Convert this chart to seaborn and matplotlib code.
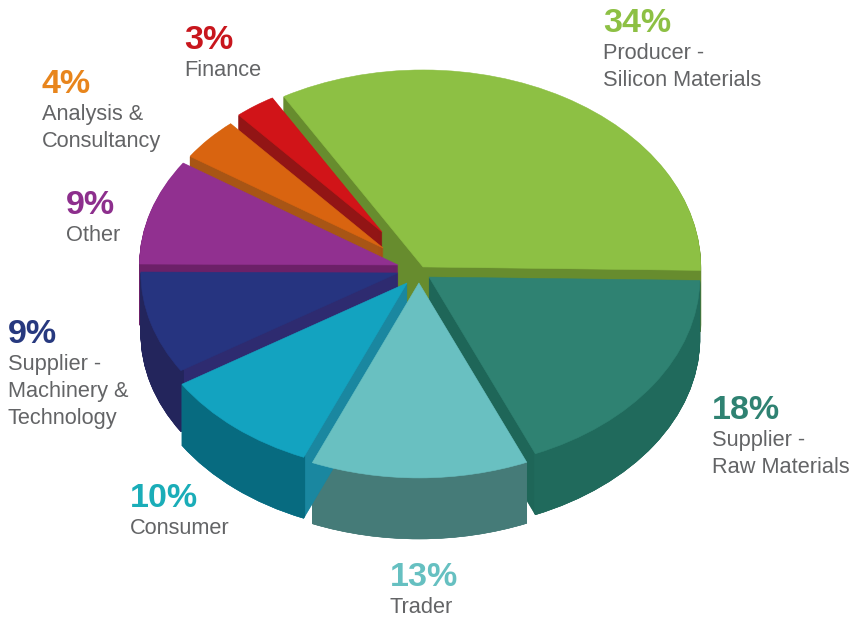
import matplotlib
matplotlib.use("Agg")
import matplotlib.pyplot as plt
import seaborn as sns

# ---- data ----
categories = ["Producer -\nSilicon Materials", "Finance", "Analysis &\nConsultancy", "Other",
              "Supplier -\nMachinery &\nTechnology", "Consumer", "Trader", "Supplier -\nRaw Materials"]
shares = [34, 3, 4, 9, 9, 10, 13, 18]

# ---- style ----
top_colors = ["#8DC044", "#D11418", "#D96410", "#913090", "#263480", "#13A3C0", "#69C0C1", "#2F8272"]
radial_colors = ["#678C2E", "#921515", "#A85515", "#6C2068", "#2E2B70", "#1A87A0", "#457B78", "#1E6658"]
rim_colors = ["#678C2E", "#921515", "#A85515", "#6C2068", "#23255C", "#076B80", "#457B78", "#206A5C"]
text_colors = ["#8DC044", "#C8161D", "#E8851C", "#8D2F8D", "#27397F", "#1AADB8", "#66C0C1", "#2F8272"]
label_gray = "#636466"

# ---- layout (pixels per unit, offsets in pie units) ----
W, H = 864, 624
CX, CY, UX, UY = 412, 272, 275, 195
START_ANGLE = -1
boundary_nudge = [-1.3, -1.2, -0.4, 0.7, 1.0, -0.2, -1.1, 0.0]  # perspective of the drawing, degrees
shift_x = [0.040, -0.109, -0.105, -0.051, -0.051, -0.018, 0.025, 0.062]
shift_y = [0.026, 0.205, 0.123, 0.036, -0.005, -0.056, -0.056, -0.026]
radius = [1.01, 0.795, 0.845, 0.94, 0.935, 0.97, 1.0, 0.985]
draw_rank = [0, 1, 2, 3, 4, 7, 6, 5]   # back to front
DEPTH_PX = 61
text_x = [603, 184, 42, 66, 8, 130, 390, 712]
text_base = [32, 49, 93, 214, 343, 507, 586, 419]
LINE_PX = 27

sns.set_theme(style="white")
plt.rcParams["font.family"] = ["Liberation Sans", "DejaVu Sans"]

fig = plt.figure(figsize=(W / 100, H / 100), dpi=100, facecolor="white")
ax = fig.add_axes([0, 0, 1, 1])


def layer(colors, depth_px, zbase, ring=None):
    wp = {"linewidth": 0.4, "antialiased": True}
    if ring is not None:
        wp["width"] = ring
    wedges, texts = ax.pie(shares, colors=colors, startangle=START_ANGLE, counterclock=True,
                           wedgeprops=wp)
    for t in texts:
        t.remove()
    for i, w in enumerate(wedges):
        w.set_center((shift_x[i], shift_y[i] - depth_px / UY))
        w.set_radius(radius[i])
        w.set_edgecolor(colors[i])
        w.set_zorder(zbase(i))
        t1, t2 = w.theta1, w.theta2
        w.set_theta2(t2 + boundary_nudge[i])
        if i > 0:
            w.set_theta1(t1 + boundary_nudge[i - 1])


for d in range(DEPTH_PX, 0, -1):
    frac = (DEPTH_PX - d) / DEPTH_PX
    layer(radial_colors, d, lambda i: 1 + draw_rank[i] * 2 + frac * 0.4)
    layer(rim_colors, d, lambda i: 1 + draw_rank[i] * 2 + 0.5 + frac * 0.4, ring=0.012)
layer(top_colors, 0, lambda i: 40)

ax.set_aspect("auto")
ax.set_xlim(-CX / UX, (W - CX) / UX)
ax.set_ylim((CY - H) / UY, CY / UY)
ax.set_axis_off()

for i, (name, val) in enumerate(zip(categories, shares)):
    y = text_base[i]
    fig.text(text_x[i] / W, 1 - y / H, f"{val}%", color=text_colors[i], fontsize=24.5,
             fontweight="bold", ha="left", va="baseline")
    for ln in name.split("\n"):
        y += LINE_PX
        fig.text(text_x[i] / W, 1 - y / H, ln, color=label_gray, fontsize=15.7,
                 ha="left", va="baseline")

fig.savefig("out.png", dpi=100, facecolor="white")
